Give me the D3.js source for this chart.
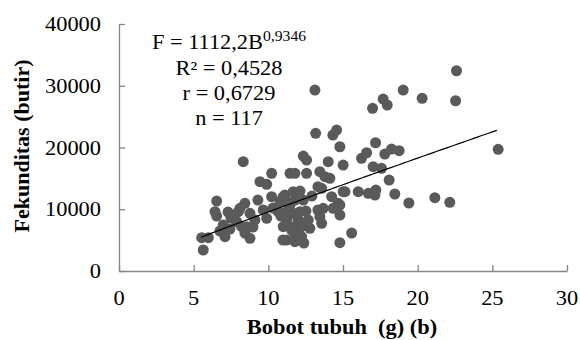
<!DOCTYPE html>
<html lang="en">
    <head>
        <meta charset="utf-8">
        <title>D3</title>
        <script type="text/javascript" src="https://cdnjs.cloudflare.com/ajax/libs/d3/7.8.5/d3.min.js"></script>
        <style type="text/css">
            body { margin: 0; background: #fff; }
            text { font-family: "Liberation Serif", "Times New Roman", serif; fill: #000; }
        </style>
    </head>
    <body>
        <script type="text/javascript">
            var w = 580;
            var h = 340;

            // bobot tubuh (g)
            var bobot = [5.54, 5.98, 5.64, 6.54, 6.43, 6.54, 6.98, 7.10, 6.76, 8.32,
                         8.43, 8.10, 7.99, 7.88, 8.77, 8.55, 8.77, 8.43, 8.97, 9.10,
                         9.44, 9.89, 10.22, 10.22, 9.66, 9.89, 10.66, 10.31, 7.50, 8.21,
                         7.43, 10.78, 11.11, 11.45, 11.78, 11.67, 11.22, 11.22, 11.56, 10.98,
                         12.34, 12.56, 14.01, 15.01, 12.56, 13.45, 13.79, 14.12, 13.57, 15.01,
                         10.98, 11.22, 11.78, 12.34, 14.24, 14.68, 14.79, 14.34, 13.67, 13.45,
                         13.57, 11.22, 11.67, 12.12, 11.00, 11.67, 12.23, 12.67, 12.78, 11.78,
                         12.23, 11.78, 14.79, 15.58, 13.12, 13.17, 14.32, 14.57, 14.79, 15.13,
                         16.02, 16.69, 17.14, 17.20, 18.47, 19.41, 14.79, 16.24, 16.58, 17.02,
                         17.58, 18.09, 17.18, 17.80, 18.25, 18.76, 16.98, 17.69, 17.96, 19.03,
                         20.30, 22.60, 22.54, 25.39, 21.15, 22.15, 11.45, 11.98, 12.38, 13.32,
                         12.52, 10.84, 13.32, 12.92, 12.12, 9.30, 7.30];

            // fekunditas (butir)
            var fekunditas = [5390, 5390, 3400, 11330, 9600, 8900, 7450, 5550, 6480, 17700,
                              10960, 10150, 9600, 7980, 9340, 7170, 5290, 6150, 7120, 8260,
                              14460, 14040, 15820, 12030, 9880, 8530, 9600, 10200, 8580, 7170,
                              6800, 11220, 12300, 15820, 15820, 12840, 8260, 5020, 6640, 5020,
                              18620, 17970, 17700, 17160, 15820, 16080, 15270, 15010, 13390, 12840,
                              11980, 11220, 11490, 11490, 12030, 10960, 9070, 10150, 10150, 8790,
                              7720, 9600, 9340, 9600, 7170, 7170, 7170, 8260, 6910, 6100,
                              5550, 4740, 4580, 6150, 29300, 22290, 22020, 22830, 20120, 12840,
                              12840, 12580, 12300, 13110, 12470, 11010, 10690, 18250, 19150, 16890,
                              16630, 14730, 20770, 18940, 19750, 19480, 26340, 27850, 26880, 29300,
                              27960, 32430, 27570, 19700, 11870, 11120, 10690, 8420, 4530, 9880,
                              9710, 8900, 13650, 12140, 12950, 11490, 9550];

            var xTicks = [0, 5, 10, 15, 20, 25, 30];
            var yTicks = [0, 10000, 20000, 30000, 40000];

            // trendline F = a * B^b
            var trendA = 1112.2;
            var trendB = 0.9346;
            var trendFrom = 5.5;
            var trendTo = 25.3;

            var notes = ["R\u00b2 = 0,4528", "r = 0,6729", "n = 117"];

            var dataset = bobot.map(function (d, i) {
                return { x: d, y: fekunditas[i] };
            });

            // the source picture is a little stretched sideways
            var sx = 1.12;
            function place(px, py) {
                return "translate(" + px + "," + py + ") scale(" + sx + ",1)";
            }

            var svg = d3.select("body")
                        .append("svg")
                        .attr("width", w)
                        .attr("height", h);

            var x = d3.scaleLinear().domain([0, 30]).range([119, 567]);
            var y = d3.scaleLinear().domain([0, 40000]).range([271, 24]);

            // axes, ticks pointing inward like the Excel chart
            svg.append("g")
               .attr("transform", "translate(0," + y(0) + ")")
               .call(d3.axisTop(x).tickValues(xTicks).tickSize(6).tickSizeOuter(0).tickFormat(""));
            svg.append("g")
               .attr("transform", "translate(" + x(0) + ",0)")
               .call(d3.axisRight(y).tickValues(yTicks).tickSize(6).tickSizeOuter(0).tickFormat(""));
            svg.selectAll(".domain").attr("stroke", "#868686").attr("stroke-width", 1.3);
            svg.selectAll(".tick line").attr("stroke", "#868686").attr("stroke-width", 1.3);

            svg.selectAll("text.xlab")
               .data(xTicks)
               .enter()
               .append("text")
               .attr("class", "xlab")
               .attr("transform", function (d) { return place(x(d), 305); })
               .attr("text-anchor", "middle")
               .attr("font-size", 20)
               .text(function (d) { return d; });

            svg.selectAll("text.ylab")
               .data(yTicks)
               .enter()
               .append("text")
               .attr("class", "ylab")
               .attr("transform", function (d) { return place(101, y(d) + 7); })
               .attr("text-anchor", "end")
               .attr("font-size", 20)
               .text(function (d) { return d; });

            svg.append("text")
               .attr("transform", place(342, 334))
               .attr("text-anchor", "middle")
               .attr("font-size", 20)
               .attr("font-weight", "bold")
               .style("white-space", "pre")
               .text("Bobot tubuh  (g) (b)");

            svg.append("text")
               .attr("transform", "translate(29,146) rotate(-90)")
               .attr("text-anchor", "middle")
               .attr("font-size", 22)
               .attr("font-weight", "bold")
               .text("Fekunditas (butir)");

            // points
            svg.selectAll("circle")
               .data(dataset)
               .enter()
               .append("circle")
               .attr("cx", function (d) { return x(d.x); })
               .attr("cy", function (d) { return y(d.y); })
               .attr("r", 5.5)
               .attr("fill", "#5a5a5a");

            // power trendline
            var steps = d3.range(trendFrom, trendTo, 0.25).concat([trendTo]);
            var line = d3.line()
                         .x(function (d) { return x(d); })
                         .y(function (d) { return y(trendA * Math.pow(d, trendB)); });
            svg.append("path")
               .attr("d", line(steps))
               .attr("fill", "none")
               .attr("stroke", "#000")
               .attr("stroke-width", 1.2);

            // equation box
            var eq = svg.append("text")
                        .attr("transform", place(229, 49))
                        .attr("text-anchor", "middle")
                        .attr("font-size", 20);
            eq.append("tspan").text("F = 1112,2B");
            eq.append("tspan").attr("font-size", 14).attr("dy", -8).text("0,9346");

            svg.selectAll("text.note")
               .data(notes)
               .enter()
               .append("text")
               .attr("class", "note")
               .attr("transform", function (d, i) { return place(229, 75 + i * 25); })
               .attr("text-anchor", "middle")
               .attr("font-size", 20)
               .text(function (d) { return d; });
        </script>
    </body>
</html>
